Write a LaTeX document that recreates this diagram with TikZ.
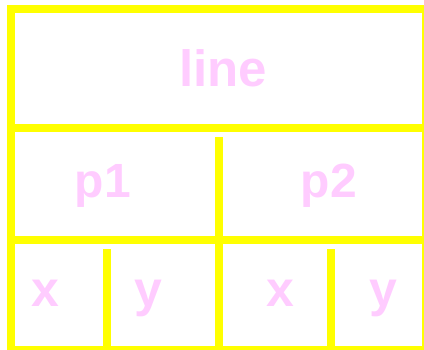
\documentclass[tikz,border=0pt]{standalone}
\usepackage{fontspec}
\setmainfont{Liberation Sans}
\definecolor{rule}{RGB}{255,255,0}
\definecolor{label}{RGB}{255,204,255}
\begin{document}
\begin{tikzpicture}[x=1pt,y=-1pt,
  wall/.style={draw=rule,line width=8pt},
  tag/.style={text=label,font=\bfseries\fontsize{#1}{#1}\selectfont,anchor=base,inner sep=0pt}]
\useasboundingbox (0,0) rectangle (424,349);
% outer frame and row separators
\draw[wall] (11,9) rectangle (426,349.7);
\draw[wall] (11,128) -- (426,128);
\draw[wall] (11,240) -- (426,240);
% column separators
\draw[wall] (219,137) -- (219,349.7);
\draw[wall] (107,249) -- (107,349.7);
\draw[wall] (331,249) -- (331,349.7);
% field names
\node[tag=51] (line) at (223,86) {line};
\node[tag=48] (p1) at (103,197) {p1};
\node[tag=48] (p2) at (329,197) {p2};
\node[tag=50] (x1) at (45,306.7) {x};
\node[tag=50] (y1) at (148,306.7) {y};
\node[tag=50] (x2) at (280.5,306.7) {x};
\node[tag=50] (y2) at (383,306.7) {y};
\end{tikzpicture}
\end{document}
